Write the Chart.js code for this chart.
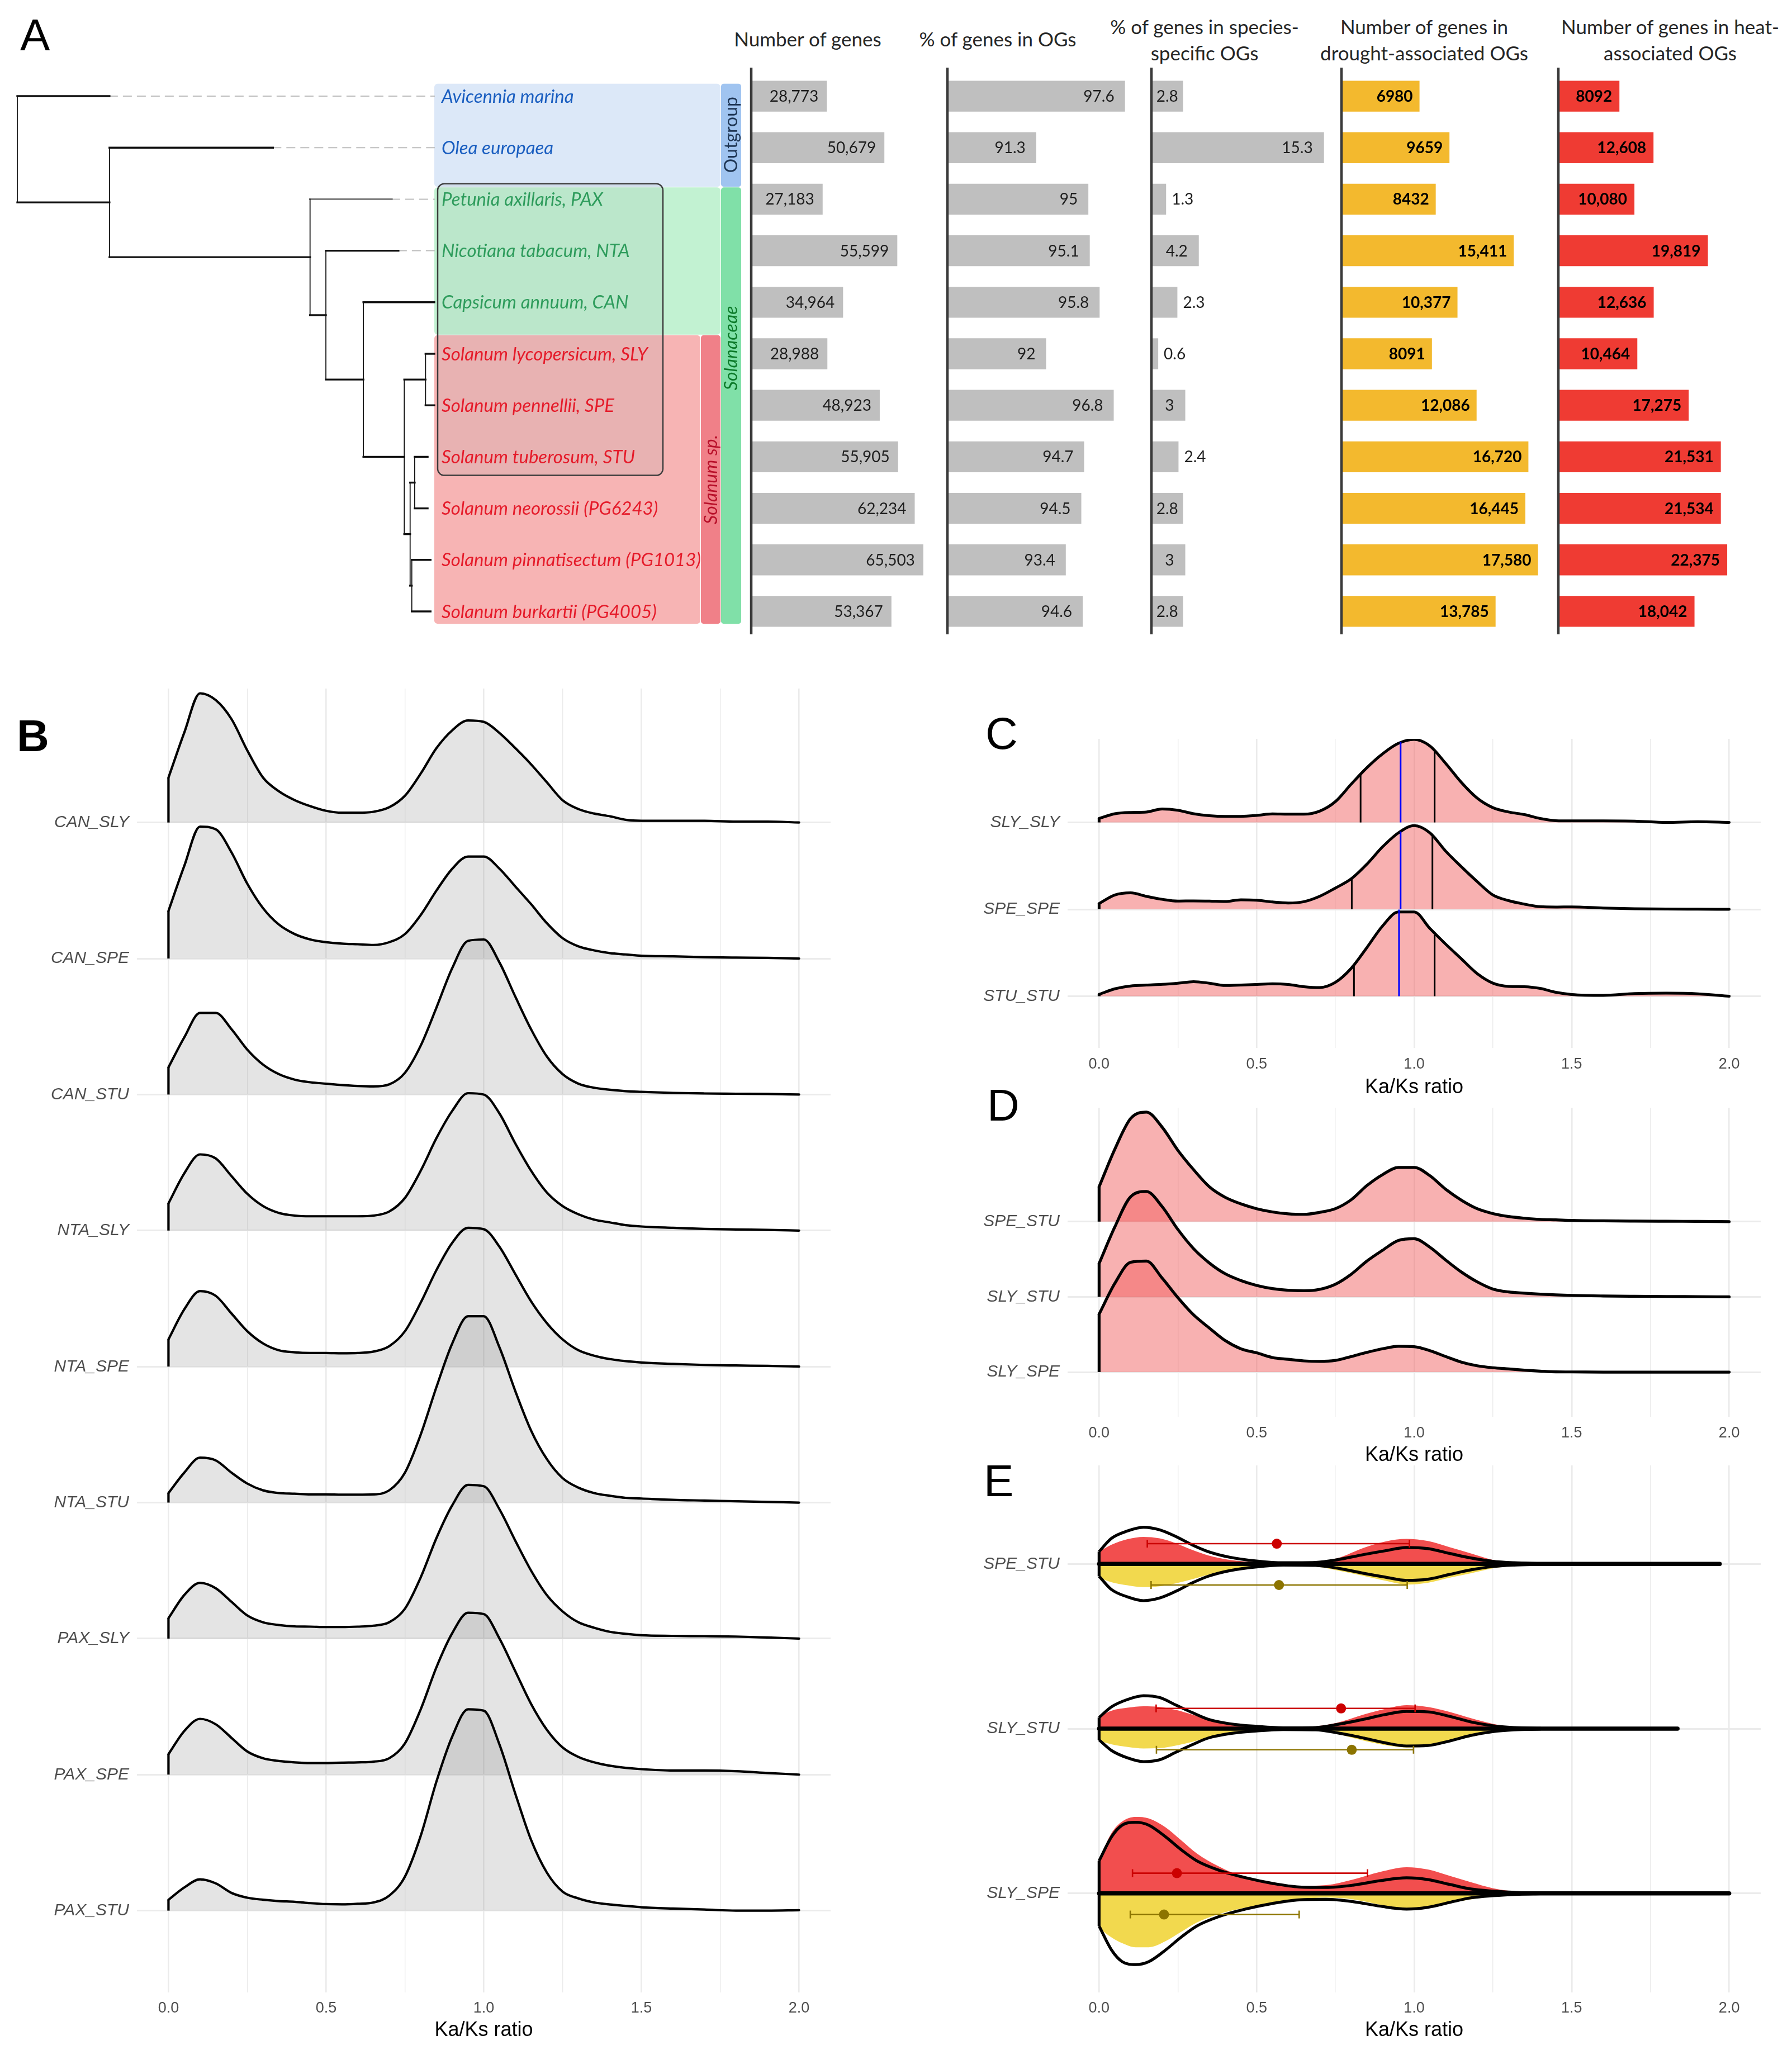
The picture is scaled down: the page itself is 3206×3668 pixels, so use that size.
<!DOCTYPE html>
<html><head><meta charset="utf-8">
<script src="https://cdn.jsdelivr.net/npm/chart.js@4.4.1/dist/chart.umd.min.js"></script>
<style>
html,body{margin:0;padding:0;background:#fff;}
body{width:3206px;height:3668px;position:relative;overflow:hidden;}
.lt{position:absolute;font-family:'Liberation Sans',Arial,sans-serif;font-size:80px;line-height:80px;color:#000;}
.hd{position:absolute;width:600px;text-align:center;font-family:Lato,'Open Sans',sans-serif;font-size:35px;line-height:47px;color:#262626;white-space:nowrap;}
</style></head><body>
<div class="lt" style="left:36px;top:23px;">A</div>
<div class="lt" style="left:30px;top:1277px;font-weight:bold;">B</div>
<div class="lt" style="left:1763px;top:1273px;">C</div>
<div class="lt" style="left:1766px;top:1938px;">D</div>
<div class="lt" style="left:1760px;top:2610px;">E</div>
<div class="hd" style="left:1145px;top:46px;">Number of genes</div>
<div class="hd" style="left:1485px;top:46px;">% of genes in OGs</div>
<div class="hd" style="left:1855px;top:24px;">% of genes in species-<br>specific OGs</div>
<div class="hd" style="left:2248px;top:24px;">Number of genes in<br>drought-associated OGs</div>
<div class="hd" style="left:2688px;top:24px;">Number of genes in heat-<br>associated OGs</div>
<script>
// ---------------- DATA ----------------
const species = ['Avicennia marina','Olea europaea','Petunia axillaris, PAX','Nicotiana tabacum, NTA','Capsicum annuum, CAN','Solanum lycopersicum, SLY','Solanum pennellii, SPE','Solanum tuberosum, STU','Solanum neorossii (PG6243)','Solanum pinnatisectum (PG1013)','Solanum burkartii (PG4005)'];
const speciesGroup = [0,0,1,1,1,2,2,2,2,2,2];
const genes   = [28773,50679,27183,55599,34964,28988,48923,55905,62234,65503,53367];
const ogPct   = [97.6,91.3,95,95.1,95.8,92,96.8,94.7,94.5,93.4,94.6];
const specPct = [2.8,15.3,1.3,4.2,2.3,0.6,3,2.4,2.8,3,2.8];
const drought = [6980,9659,8432,15411,10377,8091,12086,16720,16445,17580,13785];
const heat    = [8092,12608,10080,19819,12636,10464,17275,21531,21534,22375,18042];

// tree (relative branch depths; leaves in row order)
const leafTip   = [0.221,0.613,0.898,0.914,1,1,1,0.984,0.984,0.991,0.991];
const nodeDepth = [0,0.221,0.702,0.740,0.830,0.928,0.979,0.942,0.953,0.946];
const nodeKids  = [['L0','N1'],['L1','N2'],['L2','N3'],['L3','N4'],['L4','N5'],['N6','N7'],['L5','L6'],['N8','N9'],['L7','L8'],['L9','L10']];
const groupNames = ['Outgroup','Solanaceae','Solanum sp.'];
const groupRowFrom = [-0.24,1.77,4.64];
const groupRowTo   = [1.76,10.24,10.24];
const groupLabelRow = [0.75,4.89,7.44];

// ridgeline x grid
const kx = [0,0.05,0.1,0.15,0.2,0.25,0.3,0.35,0.4,0.45,0.5,0.55,0.6,0.65,0.7,0.75,0.8,0.85,0.9,0.95,1.0,1.05,1.1,1.15,1.2,1.25,1.3,1.35,1.4,1.45,1.5,1.6,1.7,1.8,1.9,2.0];
const xTickVals = [0,0.25,0.5,0.75,1,1.25,1.5,1.75,2];

// Panel B
const bNames = ['CAN_SLY','CAN_SPE','CAN_STU','NTA_SLY','NTA_SPE','NTA_STU','PAX_SLY','PAX_SPE','PAX_STU'];
const canSly = [0.33,0.66,0.95,0.90,0.76,0.53,0.33,0.23,0.165,0.12,0.086,0.072,0.072,0.079,0.112,0.197,0.36,0.547,0.678,0.75,0.74,0.658,0.547,0.428,0.296,0.164,0.099,0.066,0.046,0.02,0.013,0.013,0.013,0.007,0.007,0];
const canSpe = [0.35,0.68,0.97,0.95,0.78,0.55,0.37,0.25,0.18,0.14,0.12,0.11,0.105,0.10,0.12,0.18,0.32,0.50,0.66,0.75,0.75,0.66,0.53,0.40,0.26,0.15,0.09,0.06,0.04,0.03,0.02,0.016,0.01,0.007,0.005,0];
const canStu = [0.20,0.42,0.60,0.60,0.48,0.33,0.22,0.15,0.11,0.09,0.08,0.07,0.063,0.06,0.075,0.16,0.36,0.64,0.93,1.13,1.14,0.97,0.72,0.48,0.28,0.15,0.08,0.05,0.035,0.025,0.02,0.012,0.008,0.006,0.004,0];
const ntaSly = [0.2,0.42,0.56,0.53,0.40,0.27,0.18,0.13,0.11,0.105,0.105,0.105,0.105,0.11,0.14,0.24,0.44,0.68,0.88,1.01,1.00,0.86,0.64,0.44,0.28,0.18,0.12,0.08,0.06,0.04,0.03,0.02,0.012,0.008,0.005,0];
const ntaSpe = [0.2,0.42,0.555,0.52,0.39,0.26,0.17,0.12,0.105,0.10,0.10,0.098,0.10,0.11,0.15,0.26,0.47,0.71,0.91,1.02,1.01,0.88,0.68,0.48,0.32,0.20,0.12,0.08,0.055,0.04,0.03,0.02,0.012,0.008,0.005,0];
const ntaStu = [0.07,0.22,0.33,0.31,0.22,0.14,0.09,0.07,0.065,0.06,0.06,0.058,0.058,0.06,0.09,0.22,0.50,0.85,1.17,1.37,1.37,1.14,0.82,0.53,0.32,0.18,0.11,0.07,0.05,0.035,0.03,0.02,0.015,0.01,0.005,0];
const paxSly = [0.15,0.32,0.41,0.37,0.27,0.17,0.12,0.10,0.09,0.088,0.085,0.085,0.088,0.095,0.12,0.22,0.45,0.74,0.98,1.13,1.12,0.95,0.72,0.50,0.32,0.20,0.12,0.08,0.05,0.035,0.025,0.02,0.018,0.015,0.008,0];
const paxSpe = [0.15,0.32,0.41,0.37,0.27,0.17,0.12,0.10,0.09,0.085,0.085,0.088,0.09,0.095,0.12,0.23,0.48,0.79,1.04,1.19,1.18,1.00,0.76,0.52,0.33,0.20,0.13,0.09,0.065,0.05,0.04,0.03,0.03,0.025,0.012,0];
const paxStu = [0.08,0.17,0.23,0.20,0.13,0.095,0.08,0.07,0.065,0.055,0.048,0.046,0.05,0.06,0.11,0.25,0.55,0.95,1.28,1.48,1.47,1.22,0.86,0.52,0.28,0.14,0.09,0.06,0.045,0.035,0.025,0.015,0.008,0,0,0.003];

// Panel C
const cNames = ['SLY_SLY','SPE_SPE','STU_STU'];
const slySly = [0.046,0.10,0.115,0.12,0.155,0.14,0.10,0.078,0.07,0.07,0.08,0.098,0.095,0.095,0.13,0.24,0.44,0.63,0.79,0.91,0.955,0.88,0.68,0.46,0.28,0.17,0.12,0.09,0.045,0.02,0.018,0.018,0.015,0,0.008,0];
const speSpe = [0.067,0.165,0.19,0.15,0.115,0.095,0.097,0.095,0.09,0.11,0.105,0.085,0.073,0.088,0.15,0.245,0.35,0.52,0.72,0.88,0.963,0.88,0.67,0.49,0.32,0.165,0.10,0.06,0.03,0.026,0.028,0.015,0.007,0.003,0.002,0];
const stuStu = [0.021,0.085,0.118,0.128,0.136,0.15,0.168,0.15,0.123,0.128,0.135,0.143,0.135,0.11,0.1,0.16,0.32,0.56,0.81,0.97,0.97,0.78,0.60,0.43,0.26,0.15,0.113,0.11,0.09,0.045,0.02,0.01,0.03,0.035,0.028,0];
const cQuantX = [[0.83,0.957,1.065],[0.802,0.957,1.058],[0.809,0.952,1.065]];
const cQuantH = [[0.555,0.93,0.837],[0.35,0.896,0.856],[0.353,0.997,0.706]];

// Panel D
const dNames = ['SPE_STU','SLY_STU','SLY_SPE'];
const dSpeStu = [0.463,0.964,1.37,1.456,1.256,0.948,0.69,0.463,0.324,0.236,0.172,0.129,0.104,0.097,0.123,0.172,0.29,0.479,0.625,0.72,0.72,0.61,0.43,0.285,0.172,0.107,0.068,0.045,0.029,0.023,0.016,0.01,0.007,0.005,0.003,0];
const dSlyStu = [0.443,0.93,1.33,1.40,1.20,0.896,0.64,0.45,0.307,0.217,0.152,0.11,0.087,0.081,0.10,0.168,0.30,0.476,0.62,0.75,0.773,0.66,0.49,0.33,0.20,0.104,0.065,0.049,0.036,0.026,0.019,0.012,0.008,0.005,0.003,0];
const dSlySpe = [0.77,1.18,1.46,1.476,1.25,0.99,0.76,0.586,0.42,0.31,0.256,0.194,0.17,0.149,0.142,0.155,0.207,0.262,0.31,0.343,0.337,0.285,0.207,0.133,0.084,0.058,0.042,0.026,0.013,0.003,0.002,0,0,0,0,0];

// Panel E (split violins)
const eNames = ['SPE_STU','SLY_STU','SLY_SPE'];
const eXa = [0,0.039,0.09,0.141,0.192,0.244,0.295,0.346,0.414,0.5,0.584,0.687,0.755,0.84,0.908,0.976,1.044,1.112,1.18,1.249,1.317,1.402];
const eXb = [0,0.04,0.073,0.116,0.158,0.21,0.26,0.31,0.38,0.465,0.55,0.635,0.72,0.806,0.891,0.976,1.044,1.112,1.18,1.249,1.334,1.4];
const eX = [eXa, eXa, eXb];
const eHeat = [
 [0.075,0.116,0.15,0.164,0.155,0.125,0.086,0.052,0.025,0.011,0.007,0.014,0.034,0.098,0.136,0.152,0.139,0.102,0.064,0.025,0.007,0.002],
 [0.075,0.109,0.127,0.136,0.132,0.114,0.086,0.057,0.03,0.014,0.007,0.014,0.036,0.086,0.12,0.143,0.132,0.102,0.064,0.03,0.009,0.002],
 [0.209,0.368,0.436,0.464,0.455,0.402,0.323,0.243,0.164,0.095,0.061,0.045,0.05,0.084,0.13,0.159,0.145,0.107,0.068,0.032,0.009,0.005]];
const eDrought = [
 [0.084,0.111,0.13,0.141,0.136,0.118,0.093,0.066,0.039,0.02,0.011,0.016,0.039,0.073,0.102,0.125,0.114,0.084,0.057,0.027,0.009,0.002],
 [0.073,0.095,0.111,0.12,0.118,0.102,0.08,0.055,0.032,0.016,0.009,0.011,0.032,0.073,0.1,0.114,0.107,0.08,0.05,0.02,0.007,0.002],
 [0.211,0.268,0.302,0.327,0.327,0.291,0.234,0.177,0.125,0.086,0.059,0.036,0.025,0.036,0.068,0.098,0.086,0.059,0.036,0.018,0.007,0.002]];
const eAll = [
 [0.075,0.155,0.2,0.223,0.207,0.166,0.116,0.075,0.041,0.018,0.007,0.009,0.025,0.057,0.08,0.1,0.093,0.064,0.036,0.016,0.007,0.002],
 [0.068,0.132,0.177,0.2,0.189,0.143,0.098,0.057,0.03,0.014,0.005,0.007,0.025,0.057,0.086,0.105,0.102,0.075,0.041,0.018,0.007,0.002],
 [0.198,0.345,0.414,0.432,0.414,0.345,0.266,0.198,0.141,0.095,0.061,0.039,0.036,0.05,0.077,0.095,0.084,0.055,0.027,0.014,0.005,0.002]];
const eMaxX = [1.97,1.836,2.0];
const heatLo = [0.153,0.181,0.106], heatMean = [0.564,0.768,0.247], heatHi = [0.985,1.003,0.852];
const drLo = [0.165,0.182,0.099], drMean = [0.571,0.802,0.206], drHi = [0.978,0.998,0.635];

// ---------------- HELPERS ----------------
Chart.defaults.font.family = "'Liberation Sans', Arial, sans-serif";
Chart.defaults.animation = false;
Chart.defaults.events = [];
Chart.defaults.plugins.legend.display = false;
Chart.defaults.plugins.tooltip.enabled = false;

function makeCanvas(left, top, w, h) {
  const c = document.createElement('canvas');
  c.width = w; c.height = h;
  c.style.cssText = `position:absolute;left:${left}px;top:${top}px;width:${w}px;height:${h}px;`;
  document.body.appendChild(c);
  return c.getContext('2d');
}
const isMajor = v => Math.abs(v * 2 - Math.round(v * 2)) < 1e-6;
const fmtN = v => v >= 10000 ? v.toLocaleString('en-US') : String(v);

// ---------------- PANEL A: tree ----------------
function nodeY(id) { if (id[0] === 'L') return +id.slice(1); const k = nodeKids[+id.slice(1)]; return (nodeY(k[0]) + nodeY(k[1])) / 2; }
function nodeX(id) { return id[0] === 'L' ? leafTip[+id.slice(1)] : nodeDepth[+id.slice(1)]; }
const treeSets = [];
nodeKids.forEach((kids, i) => {
  const d = nodeDepth[i];
  const ys = kids.map(nodeY);
  treeSets.push({ data: [{x: d, y: ys[0]}, {x: d, y: ys[1]}], borderColor: '#111', borderWidth: 1.8 });
  kids.forEach((k, j) => treeSets.push({ data: [{x: d, y: ys[j]}, {x: nodeX(k), y: ys[j]}], borderColor: k === 'L2' ? '#808080' : '#111', borderWidth: 3.4 }));
});
leafTip.forEach((t, i) => { if (t < 0.95) treeSets.push({ data: [{x: t, y: i}, {x: 1, y: i}], borderColor: '#bdbdbd', borderWidth: 2, borderDash: [14, 11] }); });
treeSets.forEach(s => { s.pointRadius = 0; s.fill = false; s.tension = 0; s.borderCapStyle = 'square'; });

const groupFill = ['#dce8f8', '#c2f2d2', '#f7b4b4'];
const groupStrip = ['#a0c4f0', '#80e0a8', '#f08088'];
const groupText = ['#1a5ec0', '#2e9c5c', '#e51b2a'];
const treeDecor = {
  id: 'treeDecor',
  beforeDatasetsDraw(chart) {
    const {ctx, scales: {x, y}} = chart;
    const x1 = x.getPixelForValue(1);
    const py = r => y.getPixelForValue(r);
    ctx.save();
    const rr = (l, t, w, h, rad, fill) => { ctx.beginPath(); ctx.roundRect(l, t, w, h, rad); ctx.fillStyle = fill; ctx.fill(); };
    rr(x1, py(groupRowFrom[0]), 512, py(groupRowTo[0]) - py(groupRowFrom[0]), 6, groupFill[0]);
    rr(x1, py(groupRowFrom[1]), 512, py(groupRowFrom[2]) - py(groupRowFrom[1]) - 1, 6, groupFill[1]);
    rr(x1, py(groupRowFrom[2]), 476, py(groupRowTo[2]) - py(groupRowFrom[2]), 6, groupFill[2]);
    rr(x1 + 513, py(groupRowFrom[0]), 36, py(groupRowTo[0]) - py(groupRowFrom[0]), 5, groupStrip[0]);
    rr(x1 + 513, py(groupRowFrom[1]), 36, py(groupRowTo[1]) - py(groupRowFrom[1]), 5, groupStrip[1]);
    rr(x1 + 477, py(groupRowFrom[2]), 35, py(groupRowTo[2]) - py(groupRowFrom[2]), 5, groupStrip[2]);
    ctx.beginPath(); ctx.roundRect(x1 + 6, py(1.70), 403, py(7.36) - py(1.70), 12);
    ctx.fillStyle = 'rgba(147,167,167,0.15)'; ctx.fill();
    ctx.lineWidth = 2.5; ctx.strokeStyle = '#3c3c3c'; ctx.stroke();
    ctx.restore();
  },
  afterDatasetsDraw(chart) {
    const {ctx, scales: {x, y}} = chart;
    const x1 = x.getPixelForValue(1);
    ctx.save();
    ctx.textBaseline = 'middle'; ctx.textAlign = 'left';
    ctx.font = 'italic 33px Lato';
    species.forEach((s, i) => { ctx.fillStyle = groupText[speciesGroup[i]]; ctx.fillText(s, x1 + 13, y.getPixelForValue(i) + 1); });
    const lab = [[x1 + 531, '#1e3553', '32px Lato'], [x1 + 531, '#0d7a2a', 'italic 32px Lato'], [x1 + 495, '#b8102a', 'italic 32px Lato']];
    groupNames.forEach((g, i) => {
      ctx.save(); ctx.translate(lab[i][0], y.getPixelForValue(groupLabelRow[i])); ctx.rotate(-Math.PI / 2);
      ctx.textAlign = 'center'; ctx.fillStyle = lab[i][1]; ctx.font = lab[i][2]; ctx.fillText(g, 0, 1); ctx.restore();
    });
    ctx.restore();
  }
};
new Chart(makeCanvas(0, 0, 1340, 1160), {
  type: 'line',
  data: { datasets: treeSets },
  plugins: [treeDecor],
  options: {
    devicePixelRatio: 1, responsive: false,
    layout: { padding: 0 },
    scales: {
      x: { type: 'linear', display: false, min: -31 / 746, max: -31 / 746 + 1340 / 746 },
      y: { type: 'linear', display: false, reverse: true, min: -172 / 92.2, max: -172 / 92.2 + 1160 / 92.2 }
    }
  }
});

// ---------------- PANEL A: bars ----------------
const axisLine = {
  id: 'axisLine',
  afterDatasetsDraw(chart) {
    const {ctx, chartArea: a} = chart;
    ctx.save(); ctx.fillStyle = '#3a3a3a'; ctx.fillRect(a.left - 2.25, a.top - 5, 4.5, a.bottom - a.top); ctx.restore();
  }
};
const barLabels = {
  id: 'barLabels',
  afterDatasetsDraw(chart, args, o) {
    const {ctx} = chart; const meta = chart.getDatasetMeta(0); const vals = chart.data.datasets[0].data;
    ctx.save();
    ctx.font = (o.bold ? 'bold ' : '') + '28px Lato';
    ctx.fillStyle = o.color; ctx.textBaseline = 'middle';
    meta.data.forEach((bar, i) => {
      const txt = fmtN(vals[i]);
      const tw = ctx.measureText(txt).width;
      const bw = bar.x - bar.base;
      if (bw >= tw + 14) { ctx.textAlign = 'right'; ctx.fillText(txt, bar.x - Math.min(o.pad, (bw - tw) / 2), bar.y + 1); }
      else { ctx.textAlign = 'left'; ctx.fillText(txt, bar.x + 10, bar.y + 1); }
    });
    ctx.restore();
  }
};
function barChart(axisX, width, vals, min, max, color, lab) {
  new Chart(makeCanvas(axisX - 4, 116, width + 4, 1034), {
    type: 'bar',
    data: { labels: species, datasets: [{ data: vals, backgroundColor: color, borderWidth: 0, barPercentage: 0.6, categoryPercentage: 1 }] },
    plugins: [axisLine, barLabels],
    options: {
      indexAxis: 'y', devicePixelRatio: 1, responsive: false,
      layout: { padding: { left: 4, right: 0, top: 10, bottom: 10 } },
      plugins: { barLabels: lab },
      scales: { x: { type: 'linear', display: false, min, max }, y: { type: 'category', display: false } }
    }
  });
}
barChart(1344, 329, genes, 0, 70000, '#bfbfbf', { color: '#1e1e1e', bold: false, pad: 15 });
barChart(1695, 353, ogPct, 85, 99, '#bfbfbf', { color: '#1e1e1e', bold: false, pad: 19 });
barChart(2060, 343, specPct, 0, 17, '#bfbfbf', { color: '#1e1e1e', bold: false, pad: 20 });
barChart(2400, 380, drought, 0, 19000, '#f3b92e', { color: '#000', bold: true, pad: 12 });
barChart(2788, 405, heat, 0, 30000, '#ef3b33', { color: '#000', bold: true, pad: 13 });

// ---------------- RIDGE PANELS ----------------
function ridgeSets(series, xs, lw, fillColor) {
  const n = series.length; const out = [];
  series.forEach((vals, i) => {
    const r = n - 1 - i;
    out.push({ data: xs.map((x, k) => ({x, y: r + vals[k]})), borderColor: '#000', borderWidth: lw, borderJoinStyle: 'round', borderCapStyle: 'round', backgroundColor: fillColor, fill: {value: r}, cubicInterpolationMode: 'monotone', pointRadius: 0, order: 10 * r + 2 });
    out.push({ data: [{x: xs[0], y: r}, {x: xs[0], y: r + vals[0]}], borderColor: '#000', borderWidth: lw, fill: false, pointRadius: 0, order: 10 * r + 1 });
  });
  return out;
}
function ridgeChart(c) {
  const n = c.names.length;
  new Chart(makeCanvas(c.left, c.top, c.width, c.height), {
    type: 'line',
    data: { datasets: c.datasets },
    options: {
      devicePixelRatio: 1, responsive: false,
      layout: { padding: { top: c.padTop, right: c.padRight, left: 0, bottom: 0 } },
      scales: {
        x: {
          type: 'linear', min: -0.1, max: 2.1,
          afterBuildTicks: s => { s.ticks = xTickVals.map(v => ({value: v})); },
          afterFit: s => { s.height = c.xH; },
          grid: { color: '#ebebeb', lineWidth: ctx => (ctx.tick && isMajor(ctx.tick.value) ? 2.6 : 1.4), drawTicks: false },
          border: { display: false },
          ticks: { autoSkip: false, maxRotation: 0, padding: c.tickPad, color: '#4d4d4d', font: { size: 27 }, callback: v => isMajor(v) ? Number(v).toFixed(1) : '' },
          title: { display: true, text: 'Ka/Ks ratio', color: '#000', font: { size: 36 }, padding: { top: 0, bottom: c.titlePad } }
        },
        y: {
          type: 'linear', min: c.yMin, max: c.yMax,
          afterBuildTicks: s => { s.ticks = c.names.map((_, i) => ({value: i})); },
          afterFit: s => { s.width = c.yW; },
          grid: { color: '#ebebeb', lineWidth: 3, drawTicks: false },
          border: { display: false },
          ticks: { autoSkip: false, padding: 14, color: '#4d4d4d', font: { size: 30, style: 'italic' }, callback: v => c.names[n - 1 - Math.round(v)] }
        }
      }
    }
  });
}

// B
ridgeChart({ left: 0, top: 1200, width: 1500, height: 2468, yW: 245, padTop: 22, padRight: 14, xH: 103, tickPad: 12, titlePad: 13,
  yMin: -0.6015, yMax: 8.985, names: bNames,
  datasets: ridgeSets([canSly, canSpe, canStu, ntaSly, ntaSpe, ntaStu, paxSly, paxSpe, paxStu], kx, 4.2, 'rgba(128,128,128,0.21)') });

// C
const cSets = ridgeSets([slySly, speSpe, stuStu], kx, 5, 'rgba(240,90,90,0.47)');
cQuantX.forEach((qs, i) => {
  const r = cNames.length - 1 - i;
  qs.forEach((q, j) => cSets.push({ data: [{x: q, y: r}, {x: q, y: r + cQuantH[i][j]}], borderColor: j === 1 ? '#0000ff' : '#000', borderWidth: 3, pointRadius: 0, fill: false, order: 10 * r + 1.5 }));
});
ridgeChart({ left: 1700, top: 1290, width: 1506, height: 685, yW: 210, padTop: 23, padRight: 56, xH: 100, tickPad: 13, titlePad: 7,
  yMin: -0.595, yMax: 2.962, names: cNames, datasets: cSets });

// D
ridgeChart({ left: 1700, top: 1950, width: 1506, height: 680, yW: 210, padTop: 18, padRight: 56, xH: 95, tickPad: 13, titlePad: 4,
  yMin: -0.594, yMax: 3.514, names: dNames,
  datasets: ridgeSets([dSpeStu, dSlyStu, dSlySpe], kx, 5.2, 'rgba(240,90,90,0.47)') });

// E
const eSets = [];
eNames.forEach((nm, i) => {
  const r = eNames.length - 1 - i; const xs = eX[i];
  const base = { pointRadius: 0, cubicInterpolationMode: 'monotone', borderJoinStyle: 'round' };
  eSets.push({ ...base, data: xs.map((x, k) => ({x, y: r + eHeat[i][k]})), fill: {value: r}, backgroundColor: '#f24e4e', borderWidth: 0, order: 60 });
  eSets.push({ ...base, data: xs.map((x, k) => ({x, y: r - eDrought[i][k]})), fill: {value: r}, backgroundColor: '#f2d94e', borderWidth: 0, order: 60 });
  eSets.push({ ...base, data: xs.map((x, k) => ({x, y: r + eAll[i][k]})), fill: false, borderColor: '#000', borderWidth: 5.2, order: 40 });
  eSets.push({ ...base, data: xs.map((x, k) => ({x, y: r - eAll[i][k]})), fill: false, borderColor: '#000', borderWidth: 5.2, order: 40 });
  eSets.push({ ...base, data: [{x: 0, y: r - eAll[i][0]}, {x: 0, y: r + eAll[i][0]}], fill: false, borderColor: '#000', borderWidth: 5.2, order: 40 });
  eSets.push({ ...base, data: [{x: 0, y: r}, {x: eMaxX[i], y: r}], fill: false, borderColor: '#000', borderWidth: 7.5, borderCapStyle: 'round', order: 30 });
  [[heatLo, heatMean, heatHi, 0.123, '#cc0000'], [drLo, drMean, drHi, -0.128, '#8c7400']].forEach(([lo, mn, hi, off, col]) => {
    const yy = r + off;
    eSets.push({ data: [{x: lo[i], y: yy}, {x: hi[i], y: yy}], borderColor: col, borderWidth: 2.6, pointRadius: 0, fill: false, order: 20 });
    eSets.push({ data: [{x: lo[i], y: yy}, {x: hi[i], y: yy}], showLine: false, pointStyle: 'line', rotation: 90, pointRadius: 7, pointBorderWidth: 2.6, pointBorderColor: col, order: 20 });
    eSets.push({ data: [{x: mn[i], y: yy}], showLine: false, pointStyle: 'circle', pointRadius: 9, pointBackgroundColor: col, pointBorderWidth: 0, order: 10 });
  });
});
ridgeChart({ left: 1700, top: 2590, width: 1506, height: 1078, yW: 210, padTop: 17, padRight: 56, xH: 103, tickPad: 12, titlePad: 13,
  yMin: -0.601, yMax: 2.598, names: eNames, datasets: eSets });
</script>
</body></html>
